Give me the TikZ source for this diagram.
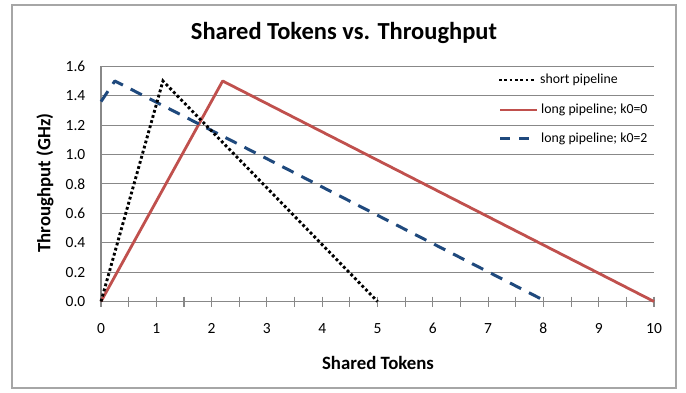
\documentclass[tikz,border=0pt]{standalone}
\usepackage{fontspec}
\setmainfont{Carlito}
\definecolor{gridgray}{HTML}{888888}
\definecolor{framegray}{HTML}{A6A6A6}
\definecolor{serred}{HTML}{C0504D}
\definecolor{serblue}{HTML}{1F497D}
\tikzset{
  gridline/.style={draw=gridgray, line width=1pt},
  axisline/.style={draw=gridgray, line width=1.1pt},
  shortser/.style={draw=black, line width=2.9pt, dash pattern=on 2.8pt off 2.5pt},
  longzero/.style={draw=serred, line width=2.8pt, line join=round},
  longtwo/.style={draw=serblue, line width=3pt, dash pattern=on 12.5pt off 8.8pt, line join=round},
  ticklab/.style={font=\fontsize{15.5}{16}\selectfont, inner sep=0pt},
  legtext/.style={font=\fontsize{13.8}{15}\selectfont, anchor=west, inner sep=0pt},
  axtitle/.style={font=\fontsize{18.8}{20}\selectfont\bfseries, inner sep=0pt}
}
\begin{document}
\begin{tikzpicture}[x=1pt, y=-1pt]
  \useasboundingbox (0,0) rectangle (686,393);
  \fill[white] (0,0) rectangle (686,393);
  % outer chart frame
  \draw[framegray, line width=1.3pt] (12,5) rectangle (676,388);

  % title
  \node[font=\fontsize{24.5}{26}\selectfont\bfseries, inner sep=0pt] (title) at (344,33) {Shared Tokens vs. Throughput};

  % plot area in data units
  \begin{scope}[shift={(101pt,-301.5pt)}, x=55.3pt, y=147pt]
    % horizontal gridlines
    \foreach \v in {0.2,0.4,...,1.61}
      \draw[gridline] (0,\v) -- (10,\v);
    % axes
    \draw[axisline] (0,0) -- (0,1.6);
    \draw[axisline] (0,0) -- (10,0);
    % crossing tick marks every half token
    \foreach \u in {0,0.5,...,10.01}
      \draw[axisline] (\u,0) ++(0,5pt) -- ++(0,-10pt);
    % tick labels
    \foreach \u in {0,...,10}
      \node[ticklab] (xl\u) at (\u,0) [yshift=-27pt] {\u};
    \foreach \v/\t in {0/0.0,0.2/0.2,0.4/0.4,0.6/0.6,0.8/0.8,1.0/1.0,1.2/1.2,1.4/1.4,1.6/1.6}
      \node[ticklab, anchor=east] at (0,\v) [xshift=-15.5pt] {\t};

    % data series
    \draw[longzero] (0,0) -- (2.2,1.5) -- (10,0);
    \draw[longtwo] (0,1.36) -- (0.25,1.5) -- (8.05,0);
    \draw[shortser] (0,0) -- (1.12,1.5) -- (5,0);
  \end{scope}

  % axis titles
  \node[axtitle] (xtitle) at (378,363) {Shared Tokens};
  \node[axtitle, rotate=90] (ytitle) at (45,183) {Throughput (GHz)};

  % legend
  \draw[shortser] (499,80) -- (534,80);
  \node[legtext] (leg1) at (540,80) {short pipeline};
  \draw[longzero] (500,110) -- (537,110);
  \node[legtext] (leg2) at (541,110) {long pipeline; k0=0};
  \draw[longtwo, dash pattern=on 10pt off 9pt] (500,139) -- (529,139);
  \node[legtext] (leg3) at (541,139) {long pipeline; k0=2};
\end{tikzpicture}
\end{document}
